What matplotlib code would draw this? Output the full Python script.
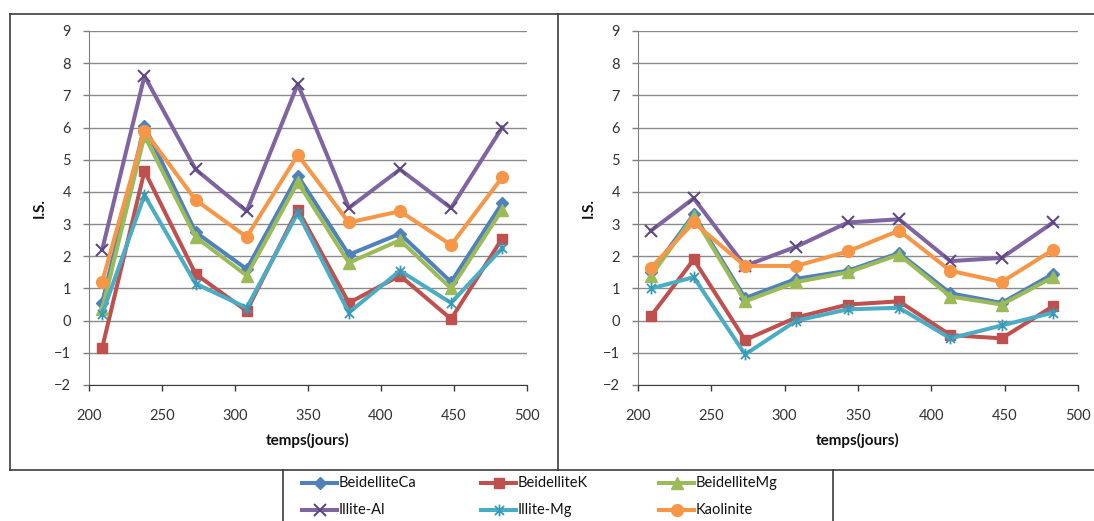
import matplotlib
matplotlib.use("Agg")
import matplotlib.pyplot as plt
from matplotlib.lines import Line2D
from matplotlib.path import Path

plt.rcParams['font.family'] = ['Lato', 'DejaVu Sans']

# Sampling days (x axis)
days = [209, 238, 273, 308, 343, 378, 413, 448, 483]

series_names = ["BeidelliteCa", "BeidelliteK", "BeidelliteMg",
                "Illite-Al", "Illite-Mg", "Kaolinite"]

# Left panel I.S. values
left_ca = [0.55, 6.05, 2.75, 1.6, 4.5, 2.05, 2.7, 1.2, 3.65]
left_k = [-0.85, 4.65, 1.45, 0.3, 3.45, 0.55, 1.4, 0.05, 2.55]
left_mg = [0.35, 5.75, 2.6, 1.4, 4.3, 1.8, 2.5, 1.0, 3.45]
left_illite_al = [2.2, 7.6, 4.7, 3.4, 7.35, 3.5, 4.7, 3.5, 6.0]
left_illite_mg = [0.2, 3.9, 1.15, 0.4, 3.35, 0.25, 1.55, 0.55, 2.25]
left_kaolinite = [1.2, 5.9, 3.75, 2.6, 5.15, 3.05, 3.4, 2.35, 4.45]

# Right panel I.S. values
right_ca = [1.5, 3.3, 0.7, 1.3, 1.55, 2.1, 0.85, 0.55, 1.45]
right_k = [0.15, 1.9, -0.6, 0.1, 0.5, 0.6, -0.45, -0.55, 0.45]
right_mg = [1.4, 3.25, 0.6, 1.2, 1.5, 2.05, 0.75, 0.5, 1.35]
right_illite_al = [2.8, 3.8, 1.7, 2.3, 3.05, 3.15, 1.85, 1.95, 3.05]
right_illite_mg = [1.0, 1.35, -1.05, 0.0, 0.35, 0.4, -0.55, -0.15, 0.25]
right_kaolinite = [1.65, 3.05, 1.7, 1.7, 2.15, 2.8, 1.55, 1.2, 2.2]

x_ticks = [200, 250, 300, 350, 400, 450, 500]
y_ticks = [-2, -1, 0, 1, 2, 3, 4, 5, 6, 7, 8, 9]

# Asterisk marker: an x crossed by a vertical bar
star_path = Path([(-1, -1), (1, 1), (-1, 1), (1, -1), (0, -1.3), (0, 1.3)],
                 [Path.MOVETO, Path.LINETO, Path.MOVETO, Path.LINETO,
                  Path.MOVETO, Path.LINETO])

styles = [
    dict(color="#4F81BD", marker="D", ms=6.5, mfc="#4F81BD", mec="#4F81BD"),
    dict(color="#C0504D", marker="s", ms=7.5, mfc="#C0504D", mec="#C0504D"),
    dict(color="#9BBB59", marker="^", ms=8.5, mfc="#9BBB59", mec="#9BBB59"),
    dict(color="#8064A2", marker="x", ms=8.5, mew=1.5, mec="#5e4a80"),
    dict(color="#4BACC6", marker=star_path, ms=8.5, mew=1.3, mfc="none", mec="#3a9ab5"),
    dict(color="#F79646", marker="o", ms=8.5, mfc="#F79646", mec="#F79646"),
]
line_w = 2.9

W, H = 1094, 521
fig = plt.figure(figsize=(W / 100, H / 100), dpi=100)
fig.patch.set_facecolor("white")


def fx(px):
    return px / W


def fy(py):
    return 1 - py / H


def make_axes(x0, x1, y0, y1, data):
    ax = fig.add_axes([fx(x0), fy(y1), fx(x1) - fx(x0), fy(y0) - fy(y1)])
    ax.set_xlim(200, 500)
    ax.set_ylim(-2, 9)
    ax.set_xticks(x_ticks)
    ax.set_yticks(y_ticks)
    ax.grid(axis="y", color="#8a8a8a", lw=1.0)
    ax.set_axisbelow(True)
    for s in ("top", "right"):
        ax.spines[s].set_visible(False)
    ax.spines["left"].set_color("#7f7f7f")
    ax.spines["bottom"].set_color("#3a3a3a")
    ax.tick_params(axis="y", length=4, width=1, color="#7f7f7f", pad=9,
                   labelsize=10.5, labelcolor="#333333")
    ax.tick_params(axis="x", length=4, width=1, color="#3a3a3a", pad=13,
                   labelsize=10.5, labelcolor="#333333")
    for i, (vals, st) in enumerate(zip(data, styles)):
        ax.plot(days, vals, lw=line_w, zorder=3 + i, clip_on=False, **st)
    ax.set_xlabel("temps(jours)", fontsize=11, fontweight="bold", color="#111111")
    ax.xaxis.set_label_coords(0.5, -0.158)
    ax.xaxis.label.set_va("center")
    ax.set_ylabel("I.S.", fontsize=11, fontweight="bold", color="#111111")
    ax.yaxis.set_label_coords(-0.112, 0.5)
    ax.yaxis.label.set_va("center")
    return ax


make_axes(89, 527, 31, 385,
          [left_ca, left_k, left_mg, left_illite_al, left_illite_mg, left_kaolinite])
make_axes(638, 1078, 31, 385,
          [right_ca, right_k, right_mg, right_illite_al, right_illite_mg, right_kaolinite])

# Outer frames of the two chart areas and the legend box
frame_col = "#3c3c3c"


def hline(y, x0, x1):
    fig.add_artist(Line2D([fx(x0), fx(x1)], [fy(y), fy(y)], color=frame_col, lw=1.2))


def vline(x, y0, y1):
    fig.add_artist(Line2D([fx(x), fx(x)], [fy(y0), fy(y1)], color=frame_col, lw=1.2))


hline(14, 10, W)
hline(470, 10, W)
vline(10, 14, 470)
vline(558, 14, 470)
vline(283, 470, H)
vline(833, 470, H)

# Legend entries
col_x = [302, 481, 659]
row_y = [483, 510]
for i, (name, st) in enumerate(zip(series_names, styles)):
    cx = col_x[i % 3]
    cy = row_y[i // 3]
    fig.add_artist(Line2D([fx(cx), fx(cx + 35)], [fy(cy), fy(cy)],
                          color=st["color"], lw=line_w))
    mk = {k: v for k, v in st.items() if k != "color"}
    fig.add_artist(Line2D([fx(cx + 17.5)], [fy(cy)], color=st["color"],
                          ls="none", **mk))
    fig.text(fx(cx + 37), fy(cy), name, fontsize=10.5, va="center", ha="left",
             color="#111111")

fig.savefig("out.png", dpi=100)
